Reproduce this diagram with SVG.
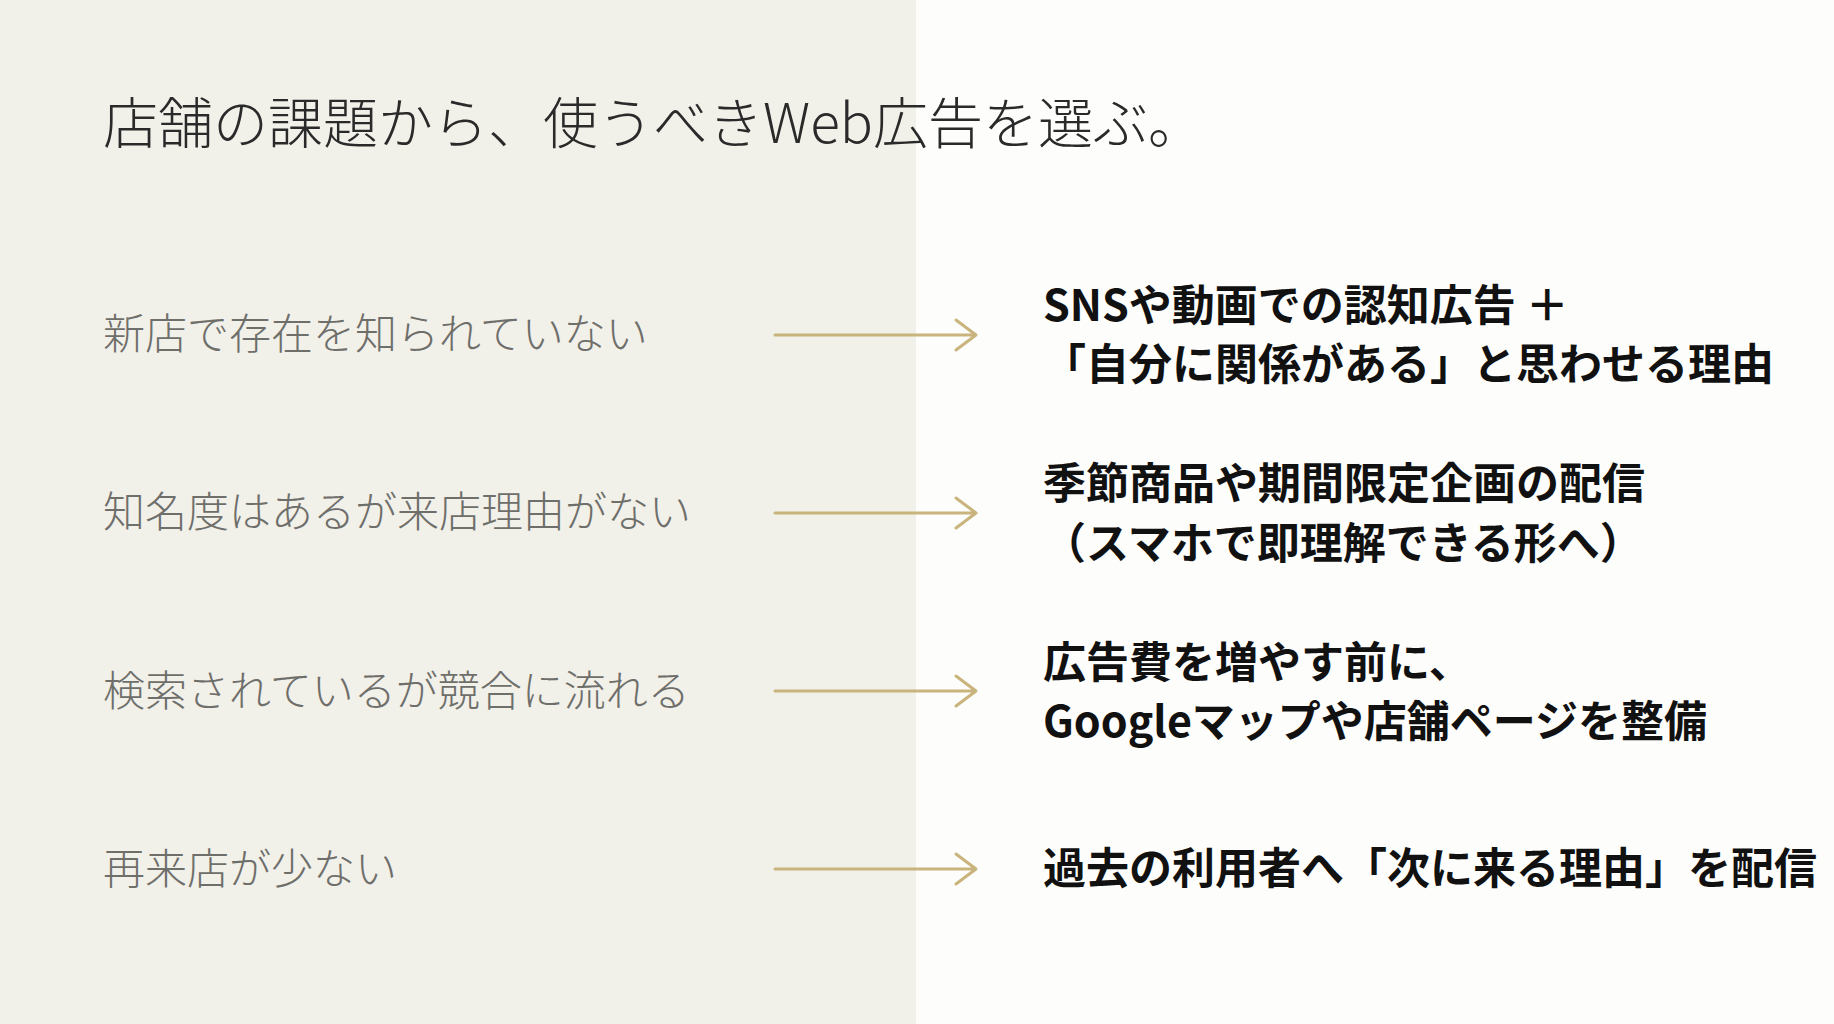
<svg xmlns="http://www.w3.org/2000/svg" width="1834" height="1024" viewBox="0 0 1834 1024">
<style>
.t{font-family:"Noto Sans CJK JP",sans-serif;font-weight:300;font-size:55px;fill:#2a2a2a}
.l{font-family:"Noto Sans CJK JP",sans-serif;font-weight:300;font-size:42px;fill:#6e6e6a}
.r{font-family:"Noto Sans CJK JP",sans-serif;font-weight:700;font-size:43px;fill:#111}
.a{stroke:#c8b47c;stroke-width:3;fill:none;stroke-linecap:round;stroke-linejoin:round}
</style>
<rect width="1834" height="1024" fill="#fdfdfb"/>
<rect width="916" height="1024" fill="#f1f0e9"/>
<text class="t" x="103" y="143">店舗の課題から、使うべきWeb広告を選ぶ。</text>
<g id="p1"><text class="l" x="103" y="349">新店で存在を知られていない</text></g>
<g id="p2"><text class="l" x="103" y="527">知名度はあるが来店理由がない</text></g>
<g id="p3"><text class="l" x="103" y="706">検索されているが競合に流れる</text></g>
<g id="p4"><text class="l" x="103" y="884">再来店が少ない</text></g>
<g id="connectors">
<path class="a" d="M775 335H976M956 320L976 335L956 350"/>
<path class="a" d="M775 513H976M956 498L976 513L956 528"/>
<path class="a" d="M775 691H976M956 676L976 691L956 706"/>
<path class="a" d="M775 869H976M956 854L976 869L956 884"/>
</g>
<g id="s1"><text class="r" x="1043" y="321">SNSや動画での認知広告 ＋</text><text class="r" x="1043" y="380">「自分に関係がある」と思わせる理由</text></g>
<g id="s2"><text class="r" x="1043" y="499">季節商品や期間限定企画の配信</text><text class="r" x="1043" y="559">（スマホで即理解できる形へ）</text></g>
<g id="s3"><text class="r" x="1043" y="678">広告費を増やす前に、</text><text class="r" x="1043" y="737">Googleマップや店舗ページを整備</text></g>
<g id="s4"><text class="r" x="1043" y="884">過去の利用者へ「次に来る理由」を配信</text></g>
</svg>
